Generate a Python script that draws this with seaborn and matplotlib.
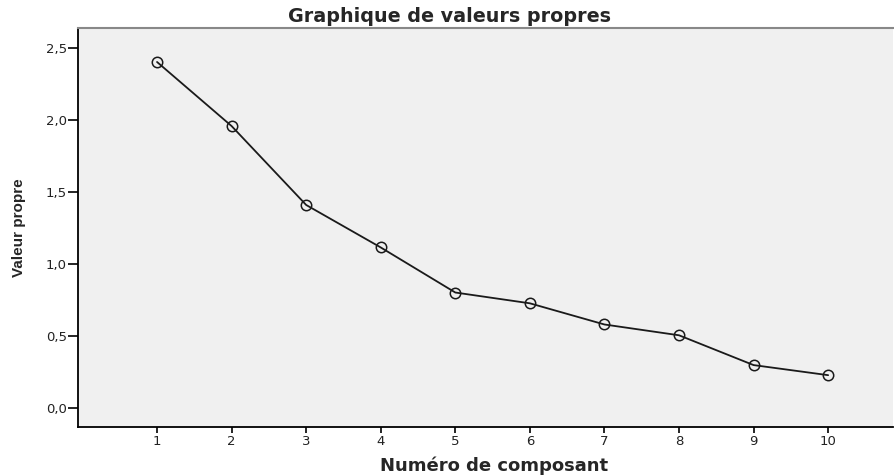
import matplotlib
matplotlib.use("Agg")
import matplotlib.pyplot as plt
import seaborn as sns
import pandas as pd
from matplotlib.ticker import FuncFormatter

components = [1, 2, 3, 4, 5, 6, 7, 8, 9, 10]
eigenvalues = [2.403, 1.958, 1.41, 1.115, 0.802, 0.727, 0.58, 0.505, 0.298, 0.228]

df = pd.DataFrame({"comp": components, "val": eigenvalues})

sns.set_style("white")
plt.rcParams["font.family"] = ["DejaVu Sans"]

fig = plt.figure(figsize=(8.95, 4.75), dpi=100)
ax = fig.add_axes([78/895, 1-427/475, 815/895, 399/475])
ax.set_facecolor("#f0f0f0")

sns.lineplot(data=df, x="comp", y="val", ax=ax, color="#1a1a1a", linewidth=1.3,
             marker="o", markersize=7.5, markerfacecolor="none",
             markeredgecolor="#1a1a1a", markeredgewidth=1.1)

ax.set_xlim(-0.06, 10.87)
ax.set_ylim(-0.132, 2.639)
ax.set_xticks(components)
ax.set_yticks([0.0, 0.5, 1.0, 1.5, 2.0, 2.5])
ax.yaxis.set_major_formatter(FuncFormatter(lambda v, p: f"{v:.1f}".replace(".", ",")))
ax.tick_params(axis="both", direction="out", width=1.2, color="black",
               labelsize=9.5, labelcolor="#222222", bottom=True, left=True)
ax.tick_params(axis="y", length=7.5, pad=0.5)
ax.tick_params(axis="x", length=4, pad=1.5)

for s in ["left", "bottom"]:
    ax.spines[s].set_color("black")
    ax.spines[s].set_linewidth(1.3)
ax.spines["top"].set_color("#888888")
ax.spines["top"].set_linewidth(1.5)
ax.spines["right"].set_visible(False)

ax.set_title("Graphique de valeurs propres", fontsize=13.8, fontweight="bold", pad=4,
             x=(450 - 78) / 815)
ax.set_xlabel("Numéro de composant", fontsize=13, fontweight="bold", labelpad=6)
ax.xaxis.set_label_coords((494 - 78) / 815, -0.075)
ax.set_ylabel("Valeur propre", fontsize=11, fontweight="bold", labelpad=14,
              family=["Liberation Sans", "DejaVu Sans"])

fig.savefig("out.png", dpi=100)
